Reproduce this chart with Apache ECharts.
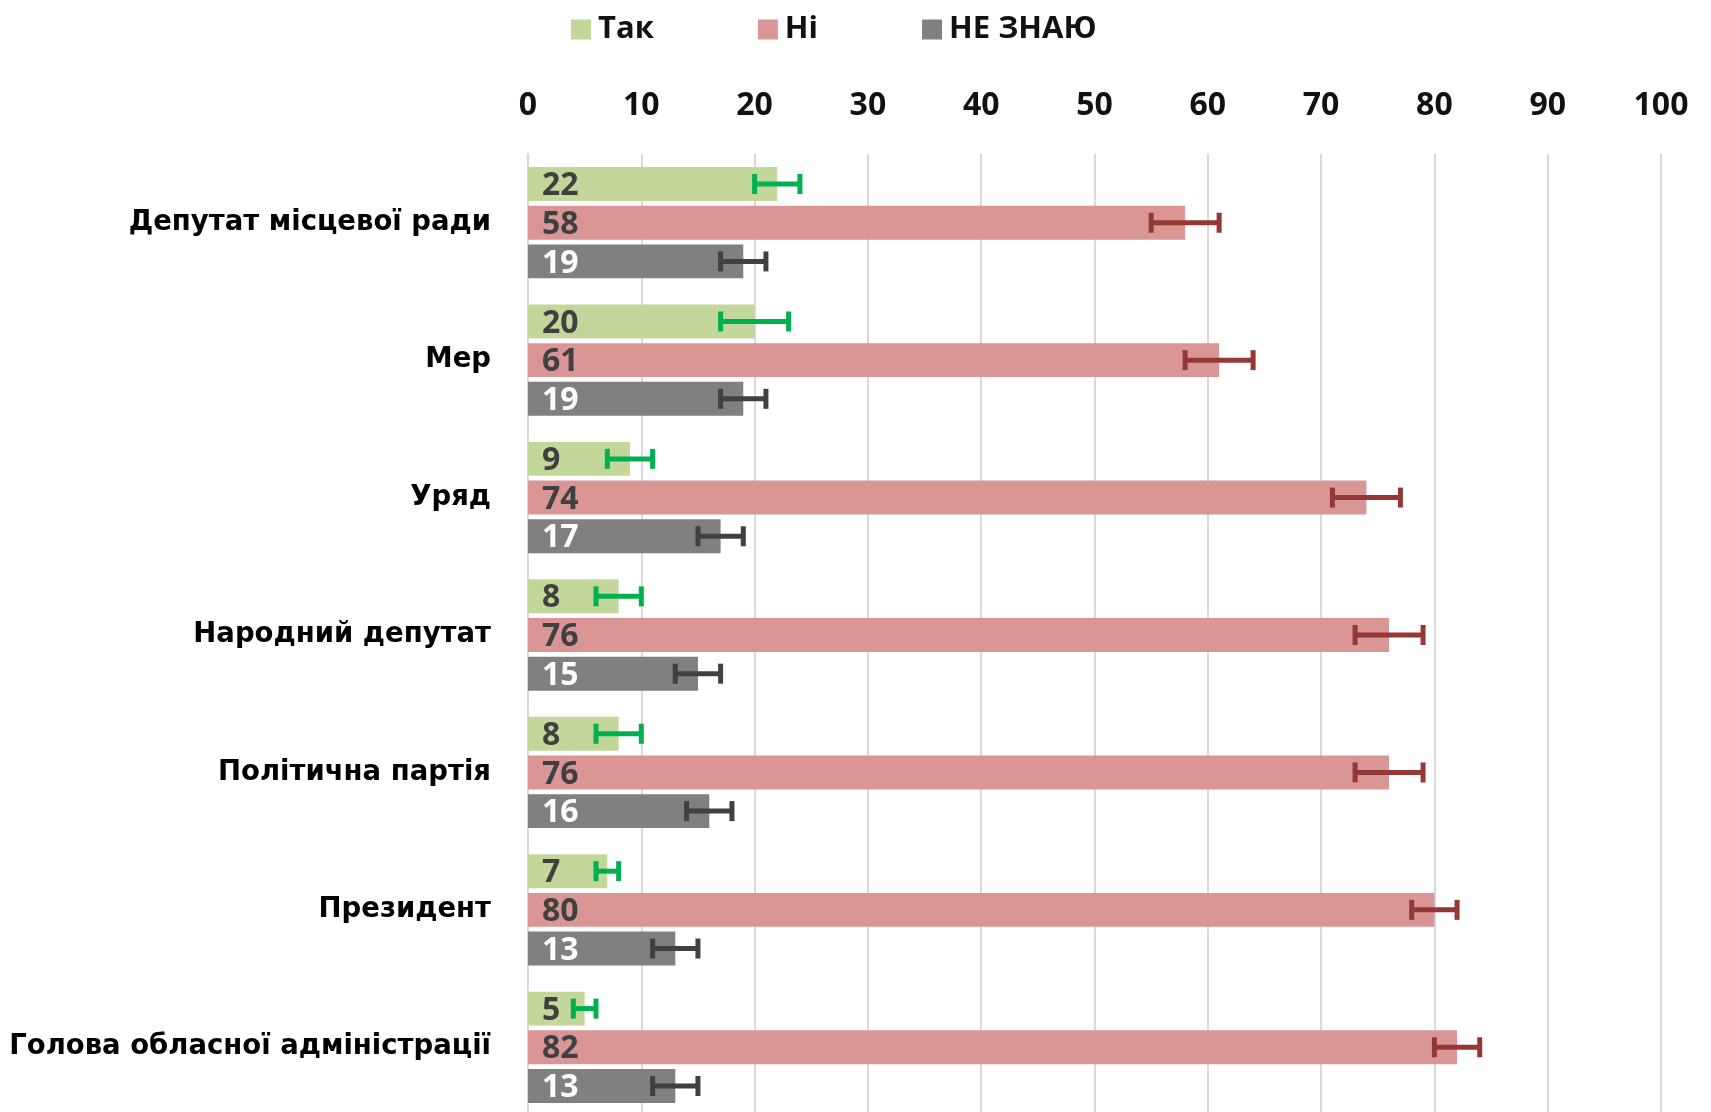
<!DOCTYPE html>
<html>
<head>
<meta charset="utf-8">
<script src="https://cdn.jsdelivr.net/npm/echarts@6/dist/echarts.min.js"></script>
<style>
  html, body { margin: 0; padding: 0; background: #fff; }
  #chart { width: 1711px; height: 1112px; }
</style>
</head>
<body>
<div id="chart"></div>
<script>
const categories = [
  "Депутат місцевої ради",
  "Мер",
  "Уряд",
  "Народний депутат",
  "Політична партія",
  "Президент",
  "Голова обласної адміністрації"
];
const seriesNames = ["Так", "Ні", "НЕ ЗНАЮ"];
const yesValues = [22, 20, 9, 8, 8, 7, 5];
const noValues = [58, 61, 74, 76, 76, 80, 82];
const dkValues = [19, 19, 17, 15, 16, 13, 13];
// error bar ranges [low, high]
const yesErr = [[20, 24], [17, 23], [7, 11], [6, 10], [6, 10], [6, 8], [4, 6]];
const noErr = [[55, 61], [58, 64], [71, 77], [73, 79], [73, 79], [78, 82], [80, 84]];
const dkErr = [[17, 21], [17, 21], [15, 19], [13, 17], [14, 18], [11, 15], [11, 15]];
const xTicks = [0, 10, 20, 30, 40, 50, 60, 70, 80, 90, 100];

const barColors = ["#c4d79b", "#da9694", "#808080"];
const errColors = ["#00b050", "#953735", "#404040"];
const labelColors = ["#404040", "#404040", "#ffffff"];
const CAT_GAP = 0.19;
const BAR_GAP = 0.14;

let chartDom = document.getElementById("chart");
let chart = echarts.init(chartDom);

function barSeries(idx, values) {
  return {
    name: seriesNames[idx],
    type: "bar",
    data: values,
    barGap: BAR_GAP * 100 + "%",
    barCategoryGap: CAT_GAP * 100 + "%",
    itemStyle: { color: barColors[idx] },
    label: {
      show: true,
      position: "insideLeft",
      distance: 14,
      offset: [0, 2],
      color: labelColors[idx],
      fontFamily: "Open Sans",
      fontWeight: "bold",
      fontSize: 32,
    },
    emphasis: { disabled: true },
  };
}

function errSeries(idx, ranges) {
  return {
    type: "custom",
    z: 10,
    silent: true,
    data: ranges.map((r, i) => [i, r[0], r[1]]),
    encode: { y: 0, x: [1, 2] },
    renderItem: (params, api) => {
      const cat = api.value(0);
      const lo = api.coord([api.value(1), cat]);
      const hi = api.coord([api.value(2), cat]);
      const band = api.size([0, 1])[1];
      const usable = band * (1 - CAT_GAP);
      const bw = usable / (3 + 2 * BAR_GAP);
      const off = -usable / 2 + bw / 2 + idx * bw * (1 + BAR_GAP);
      const y = lo[1] + off;
      const h = 10;
      const style = { stroke: errColors[idx], lineWidth: 5 };
      return {
        type: "group",
        children: [
          { type: "line", shape: { x1: lo[0], y1: y, x2: hi[0], y2: y }, style },
          { type: "line", shape: { x1: lo[0], y1: y - h, x2: lo[0], y2: y + h }, style },
          { type: "line", shape: { x1: hi[0], y1: y - h, x2: hi[0], y2: y + h }, style },
        ],
      };
    },
  };
}

let option = {
  animation: false,
  legend: {
    data: seriesNames,
    left: 566,
    top: 9,
    icon: "rect",
    itemWidth: 20,
    itemHeight: 20,
    itemGap: 104,
    textStyle: {
      fontFamily: "Open Sans",
      fontWeight: "bold",
      fontSize: 31,
      color: "#111",
      padding: [0, 0, 0, 2],
    },
  },
  grid: {
    left: 528,
    right: 50,
    top: 154,
    height: 962,
    containLabel: false,
    outerBoundsMode: "none",
  },
  xAxis: {
    type: "value",
    position: "top",
    min: xTicks[0],
    max: xTicks[xTicks.length - 1],
    interval: 10,
    axisLine: { show: false },
    axisTick: { show: false },
    axisLabel: {
      margin: 32,
      fontFamily: "Open Sans",
      fontWeight: "bold",
      fontSize: 32,
      color: "#111",
    },
    splitLine: { lineStyle: { color: "#d9d9d9", width: 2 } },
  },
  yAxis: {
    type: "category",
    inverse: true,
    data: categories,
    axisLine: { lineStyle: { color: "#d9d9d9", width: 2 } },
    axisTick: { show: false },
    axisLabel: {
      margin: 37,
      fontFamily: "DejaVu Sans",
      fontWeight: "bold",
      fontSize: 27.5,
      color: "#000",
      offset: [0, 3],
    },
  },
  series: [
    barSeries(0, yesValues),
    barSeries(1, noValues),
    barSeries(2, dkValues),
    errSeries(0, yesErr),
    errSeries(1, noErr),
    errSeries(2, dkErr),
  ],
};
option && chart.setOption(option);
</script>
</body>
</html>
